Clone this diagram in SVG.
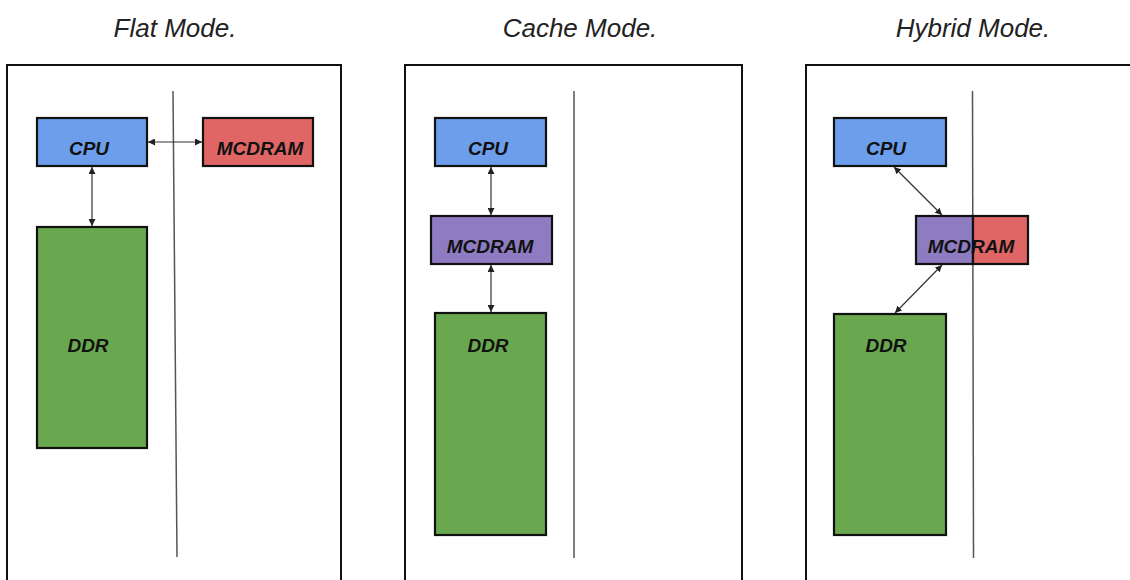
<svg xmlns="http://www.w3.org/2000/svg" width="1130" height="580" viewBox="0 0 1130 580">
<defs>
<marker id="ah" viewBox="0 0 10 10" refX="10" refY="5" markerWidth="7" markerHeight="7" markerUnits="userSpaceOnUse" orient="auto-start-reverse">
<path d="M0,0 L10,5 L0,10 z" fill="#222"/>
</marker>
<style>
.title{font-family:"Liberation Sans",Arial,sans-serif;font-style:italic;font-size:26px;fill:#222;text-anchor:middle}
.lbl{font-family:"Liberation Sans",Arial,sans-serif;font-style:italic;font-weight:bold;font-size:19px;fill:#111;text-anchor:middle}
.panel{fill:#fff;stroke:#111;stroke-width:2}
.div{stroke:#555;stroke-width:1.5;fill:none}
.box{stroke:#111;stroke-width:2.2}
.cpu{fill:#6d9eeb}
.red{fill:#e06666}
.pur{fill:#8e7cc3}
.grn{fill:#6aa84f}
.con{stroke:#333;stroke-width:1.2;fill:none;marker-start:url(#ah);marker-end:url(#ah)}
</style>
</defs>
<rect width="1130" height="580" fill="#fff"/>
<text class="title" x="175" y="37">Flat Mode.</text>
<text class="title" x="580" y="37">Cache Mode.</text>
<text class="title" x="973" y="37">Hybrid Mode.</text>
<g id="panel-flat">
<rect class="panel" x="7" y="65" width="334" height="530"/>
<line class="div" x1="173" y1="91" x2="177" y2="557"/>
</g>
<g id="panel-cache">
<rect class="panel" x="405" y="65" width="337" height="530"/>
<line class="div" x1="574" y1="91" x2="574" y2="558"/>
</g>
<g id="panel-hybrid">
<rect class="panel" x="806" y="65" width="340" height="530"/>
<line class="div" x1="972.5" y1="91" x2="973.5" y2="558"/>
</g>
<g id="flat-cpu"><rect class="box cpu" x="37" y="118" width="110" height="48"/><text class="lbl" x="89" y="155">CPU</text></g>
<g id="flat-mcdram"><rect class="box red" x="203" y="118" width="110" height="48"/><text class="lbl" x="260" y="155">MCDRAM</text></g>
<g id="flat-ddr"><rect class="box grn" x="37" y="227" width="110" height="221"/><text class="lbl" x="88" y="352">DDR</text></g>
<g id="cache-cpu"><rect class="box cpu" x="435" y="118" width="111" height="48"/><text class="lbl" x="488" y="155">CPU</text></g>
<g id="cache-mcdram"><rect class="box pur" x="431" y="216" width="121" height="48"/><text class="lbl" x="490" y="253">MCDRAM</text></g>
<g id="cache-ddr"><rect class="box grn" x="435" y="313" width="111" height="222"/><text class="lbl" x="488" y="352">DDR</text></g>
<g id="hybrid-cpu"><rect class="box cpu" x="834" y="118" width="112" height="48"/><text class="lbl" x="886" y="155">CPU</text></g>
<g id="hybrid-mcdram">
<rect class="box pur" x="916" y="216" width="57" height="48"/>
<rect class="box red" x="973" y="216" width="55" height="48"/>
<text class="lbl" x="971" y="253">MCDRAM</text>
</g>
<g id="hybrid-ddr"><rect class="box grn" x="834" y="314" width="112" height="221"/><text class="lbl" x="886" y="352">DDR</text></g>
<g id="connectors">
<line class="con" x1="92" y1="167" x2="92" y2="226"/>
<line class="con" x1="148" y1="142" x2="202" y2="142"/>
<line class="con" x1="491" y1="167" x2="491" y2="215"/>
<line class="con" x1="491" y1="265" x2="491" y2="312"/>
<line class="con" x1="894" y1="167" x2="942" y2="215"/>
<line class="con" x1="942" y1="265" x2="895" y2="313"/>
</g>
</svg>
